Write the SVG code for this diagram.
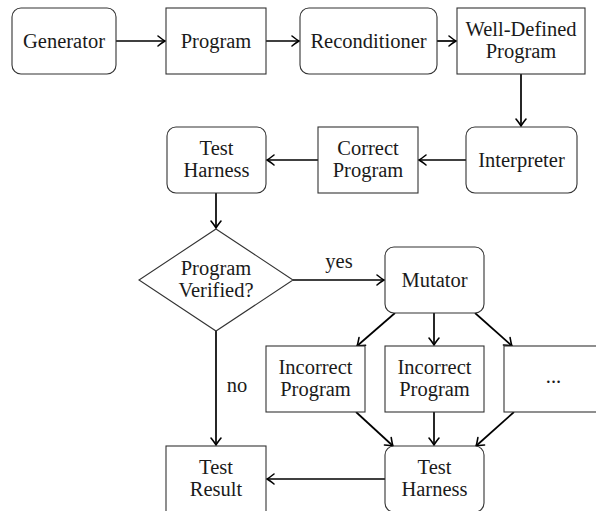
<svg xmlns="http://www.w3.org/2000/svg" width="596" height="511" viewBox="0 0 596 511">
<style>
.box{fill:#fff;stroke:#333;stroke-width:1.1}
.t{font-family:"Liberation Serif","Times New Roman",serif;font-size:20.5px;fill:#1a1a1a;text-anchor:middle}
.e{fill:none;stroke:#000;stroke-width:1.7;marker-end:url(#arr)}
</style>
<defs>
<marker id="arr" markerUnits="userSpaceOnUse" viewBox="-9 -7 11 14" refX="0" refY="0" markerWidth="11" markerHeight="14" orient="auto">
<path d="M-7,-5 Q-2,-1 0,0 Q-2,1 -7,5" fill="none" stroke="#000" stroke-width="1.6" stroke-linecap="round"/>
</marker>
</defs>
<rect width="596" height="511" fill="#fff"/>
<g id="connectors">
<line class="e" x1="116" y1="41" x2="165" y2="41"/>
<line class="e" x1="266" y1="41" x2="299" y2="41"/>
<line class="e" x1="437" y1="41" x2="456" y2="41"/>
<line class="e" x1="521" y1="74" x2="521" y2="126"/>
<line class="e" x1="466" y1="160" x2="419" y2="160"/>
<line class="e" x1="318" y1="160" x2="267" y2="160"/>
<line class="e" x1="216" y1="193" x2="216" y2="228"/>
<line class="e" x1="293" y1="280" x2="384" y2="280"/>
<line class="e" x1="216" y1="331" x2="216" y2="445"/>
<line class="e" x1="395" y1="313" x2="357" y2="346"/>
<line class="e" x1="434" y1="313" x2="434" y2="345"/>
<line class="e" x1="475" y1="313" x2="512" y2="346"/>
<line class="e" x1="356" y1="412" x2="393" y2="446"/>
<line class="e" x1="434" y1="412" x2="434" y2="445"/>
<line class="e" x1="514" y1="412" x2="476" y2="446"/>
<line class="e" x1="385" y1="479" x2="267" y2="479"/>
<text class="t" x="339" y="268">yes</text>
<text class="t" x="237" y="392">no</text>
</g>
<g id="generator"><rect class="box" x="12" y="8" width="104" height="66" rx="9"/><text class="t" x="64" y="48">Generator</text></g>
<g id="program"><rect class="box" x="166" y="8" width="100" height="66"/><text class="t" x="216" y="48">Program</text></g>
<g id="reconditioner"><rect class="box" x="300" y="8" width="137" height="66" rx="9"/><text class="t" x="368.5" y="48">Reconditioner</text></g>
<g id="welldefined"><rect class="box" x="457" y="8" width="128" height="66"/><text class="t" x="521" y="36">Well-Defined</text><text class="t" x="521" y="58">Program</text></g>
<g id="interpreter"><rect class="box" x="466" y="127" width="111" height="66" rx="9"/><text class="t" x="521.5" y="167">Interpreter</text></g>
<g id="correct"><rect class="box" x="318" y="127" width="100" height="66"/><text class="t" x="368" y="155">Correct</text><text class="t" x="368" y="177">Program</text></g>
<g id="harness1"><rect class="box" x="167" y="127" width="99" height="66" rx="9"/><text class="t" x="216.5" y="155">Test</text><text class="t" x="216.5" y="177">Harness</text></g>
<g id="verified"><polygon class="box" points="216,229 293,280 216,331 139,280"/><text class="t" x="216" y="275">Program</text><text class="t" x="216" y="297">Verified?</text></g>
<g id="mutator"><rect class="box" x="385" y="247" width="99" height="66" rx="9"/><text class="t" x="434.5" y="287">Mutator</text></g>
<g id="incorrect1"><rect class="box" x="266" y="346" width="99" height="66"/><text class="t" x="315.5" y="374">Incorrect</text><text class="t" x="315.5" y="396">Program</text></g>
<g id="incorrect2"><rect class="box" x="385" y="346" width="99" height="66"/><text class="t" x="434.5" y="374">Incorrect</text><text class="t" x="434.5" y="396">Program</text></g>
<g id="more"><rect class="box" x="504" y="346" width="99" height="66"/><text class="t" x="553.5" y="383">...</text></g>
<g id="result"><rect class="box" x="166" y="446" width="100" height="66"/><text class="t" x="216" y="474">Test</text><text class="t" x="216" y="496">Result</text></g>
<g id="harness2"><rect class="box" x="385" y="446" width="99" height="66" rx="9"/><text class="t" x="434.5" y="474">Test</text><text class="t" x="434.5" y="496">Harness</text></g>
</svg>
